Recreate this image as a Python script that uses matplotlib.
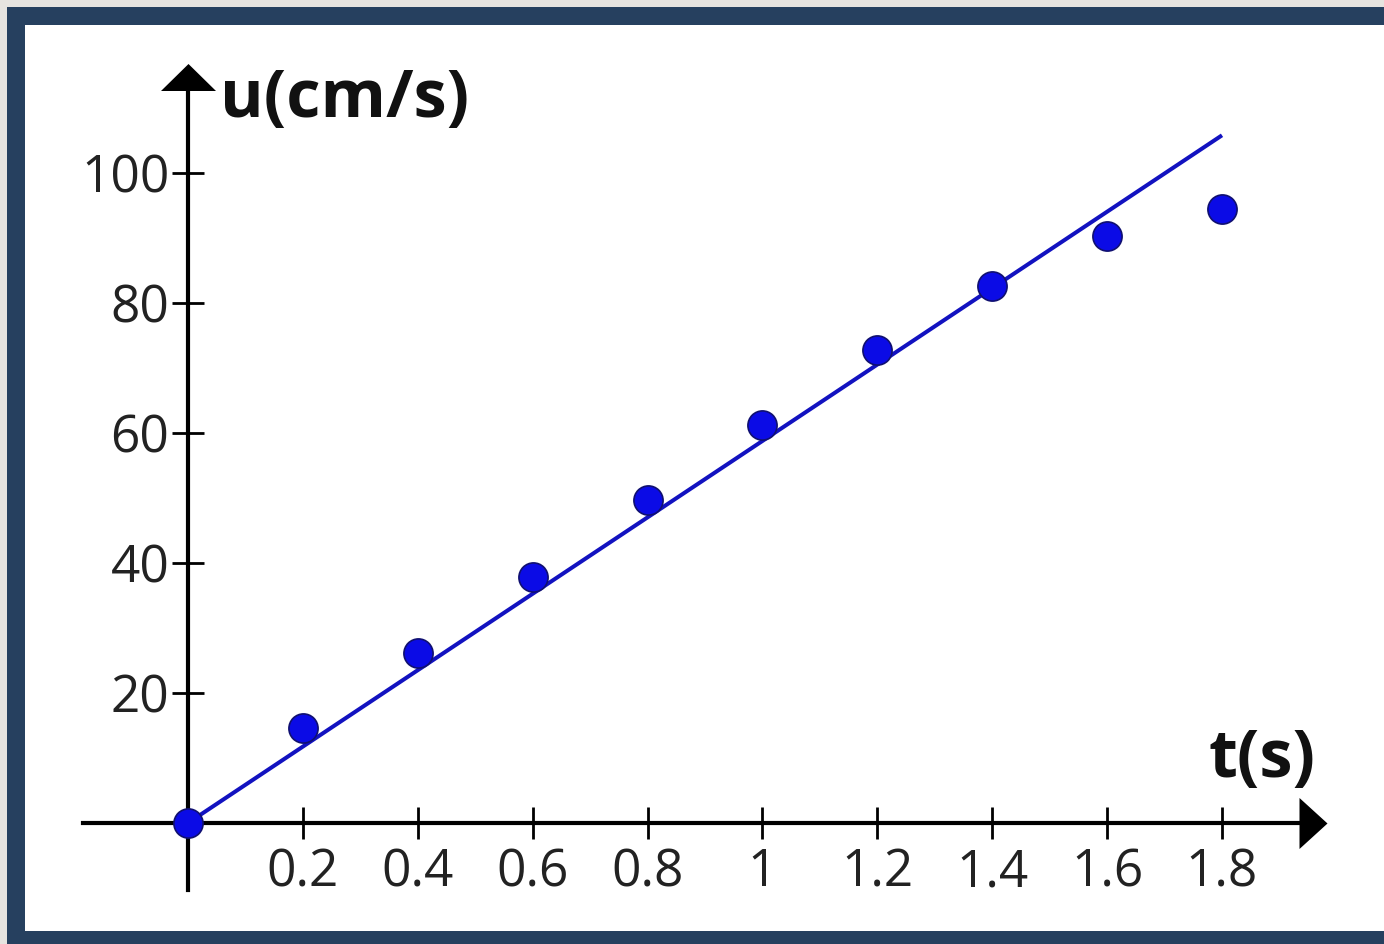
import matplotlib
matplotlib.use("Agg")
import matplotlib.pyplot as plt
from matplotlib.patches import Rectangle

# ---- data ----
t_points = [0.0, 0.2, 0.4, 0.6, 0.8, 1.0, 1.2, 1.4, 1.6, 1.8]
u_points = [0.0, 14.6, 26.2, 37.8, 49.7, 61.2, 72.8, 82.6, 90.3, 94.5]
fit_t = [0.0, 1.8]
fit_u = [0.0, 105.8]
x_ticks = [0.2, 0.4, 0.6, 0.8, 1.0, 1.2, 1.4, 1.6, 1.8]
x_tick_labels = ["0.2", "0.4", "0.6", "0.8", "1", "1.2", "1.4", "1.6", "1.8"]
y_ticks = [20, 40, 60, 80, 100]
y_tick_labels = ["20", "40", "60", "80", "100"]
x_label = "t(s)"
y_label = "u(cm/s)"

W, H = 1384, 944
fig = plt.figure(figsize=(W / 100, H / 100), dpi=100)
fig.patch.set_facecolor("#e6e4e0")

# frame
fig.patches.append(Rectangle((7 / W, 0), 1 - 7 / W, (H - 7) / H, transform=fig.transFigure,
                             facecolor="#26405f", edgecolor="none", zorder=-10))
fig.patches.append(Rectangle((25 / W, 13 / H), 1 - 25 / W, (H - 25 - 13) / H, transform=fig.transFigure,
                             facecolor="white", edgecolor="none", zorder=-9))

ax = fig.add_axes([0, 0, 1, 1])
ax.patch.set_alpha(0)

# pixel mapping: x=0 -> px 188, x=1.8 -> px 1222 ; y=0 -> 823 (from top), y=100 -> 173
sx = (1222 - 188) / 1.8
sy = 6.5
ax.set_xlim(-188 / sx, (W - 188) / sx)
y0b = H - 823
ax.set_ylim(-y0b / sy, (H - y0b) / sy)

for s in ["top", "right"]:
    ax.spines[s].set_visible(False)
ax.spines["left"].set_position(("data", 0))
ax.spines["bottom"].set_position(("data", 0))
ax.spines["left"].set_linewidth(3)
ax.spines["bottom"].set_linewidth(3)
ax.spines["bottom"].set_bounds(-105 / sx, (1305 - 188) / sx)
ax.spines["left"].set_bounds(-(890 - 823) / sy, (823 - 85) / sy)

# arrow heads (narrow triangles)
right_tri = [(-14, -25.5), (-14, 25.5), (14, 0), (-14, -25.5)]
up_tri = [(-27.5, -13.5), (27.5, -13.5), (0, 13.5), (-27.5, -13.5)]
ax.plot([(1313 - 188) / sx], [0], marker=right_tri, color="black", markersize=51 / 1.389,
        markeredgewidth=0, clip_on=False, zorder=5)
ax.plot([0], [(823 - 76.5) / sy], marker=up_tri, color="black", markersize=55 / 1.389,
        markeredgewidth=0, clip_on=False, zorder=5)

ax.set_xticks(x_ticks)
ax.set_xticklabels(x_tick_labels)
ax.set_yticks(y_ticks)
ax.set_yticklabels(y_tick_labels)
ax.tick_params(axis="both", direction="inout", length=23, width=2, colors="black",
               labelcolor="#222222", labelsize=37)
ax.tick_params(axis="x", pad=6)
ax.tick_params(axis="y", pad=2)
for lab in ax.get_xticklabels() + ax.get_yticklabels():
    lab.set_fontfamily("Open Sans")

# fit line and points
ax.plot(fit_t, fit_u, color="#1212c0", linewidth=2.9, zorder=3, solid_capstyle="butt")
ax.plot(t_points, u_points, linestyle="none", marker="o", markersize=21,
        markerfacecolor="#0b0be6", markeredgecolor="#101070", markeredgewidth=1.2, zorder=4,
        clip_on=False)

# axis labels
ax.text((220 - 188) / sx, (823 - 100) / sy, y_label, fontsize=48, fontweight="bold",
        fontfamily="Open Sans", color="#111111", ha="left", va="center")
ax.text((1316 - 188) / sx, (823 - 760) / sy, x_label, fontsize=48, fontweight="bold",
        fontfamily="Open Sans", color="#111111", ha="right", va="center")

fig.savefig("out.png", dpi=100)
